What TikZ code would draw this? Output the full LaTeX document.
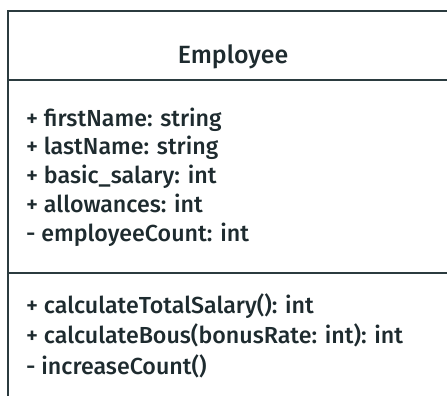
\documentclass[tikz,border=0pt]{standalone}
\usepackage{fontspec}
\setmainfont{Fira Sans}[UprightFont=* Medium, BoldFont=* SemiBold]
\definecolor{umlline}{HTML}{2B3B3F}
\definecolor{umltext}{HTML}{1E2B2F}
\begin{document}
\begin{tikzpicture}[x=1bp,y=-1bp,
  frame/.style={draw=umlline, line width=2.2bp},
  member/.style={anchor=base west, inner sep=0pt, text=umltext, font=\fontsize{23.3}{28}\selectfont},
  classname/.style={anchor=base, inner sep=0pt, text=umltext, font=\fontsize{25}{30}\selectfont}]
  \useasboundingbox (0,0) rectangle (447,395);
  \fill[white] (0,0) rectangle (447,395);
  % class box, continuing past the right and bottom edges
  \coordinate (tl) at (8,11);
  \coordinate (tr) at (460,11);
  \coordinate (bl) at (8,400);
  \coordinate (d1l) at (8,80);
  \coordinate (d1r) at (460,80);
  \coordinate (d2l) at (8,273);
  \coordinate (d2r) at (460,273);
  \draw[frame] (bl) -- (tl) -- (tr);
  \draw[frame] (d1l) -- (d1r);
  \draw[frame] (d2l) -- (d2r);
  % name compartment
  \node[classname] (cname) at (233,63) {Employee};
  % attributes
  \node[member] (a1) at (26,126) {+ firstName: string};
  \node[member] (a2) at (26,154) {+ lastName: string};
  \node[member] (a3) at (26,183) {+ basic\_salary: int};
  \node[member] (a4) at (26,212) {+ allowances: int};
  \node[member] (a5) at (26,241) {- employeeCount: int};
  % operations
  \node[member] (m1) at (26,313) {+ calculateTotalSalary(): int};
  \node[member] (m2) at (26,343) {+ calculateBous(bonusRate: int): int};
  \node[member] (m3) at (26,374) {- increaseCount()};
\end{tikzpicture}
\end{document}
